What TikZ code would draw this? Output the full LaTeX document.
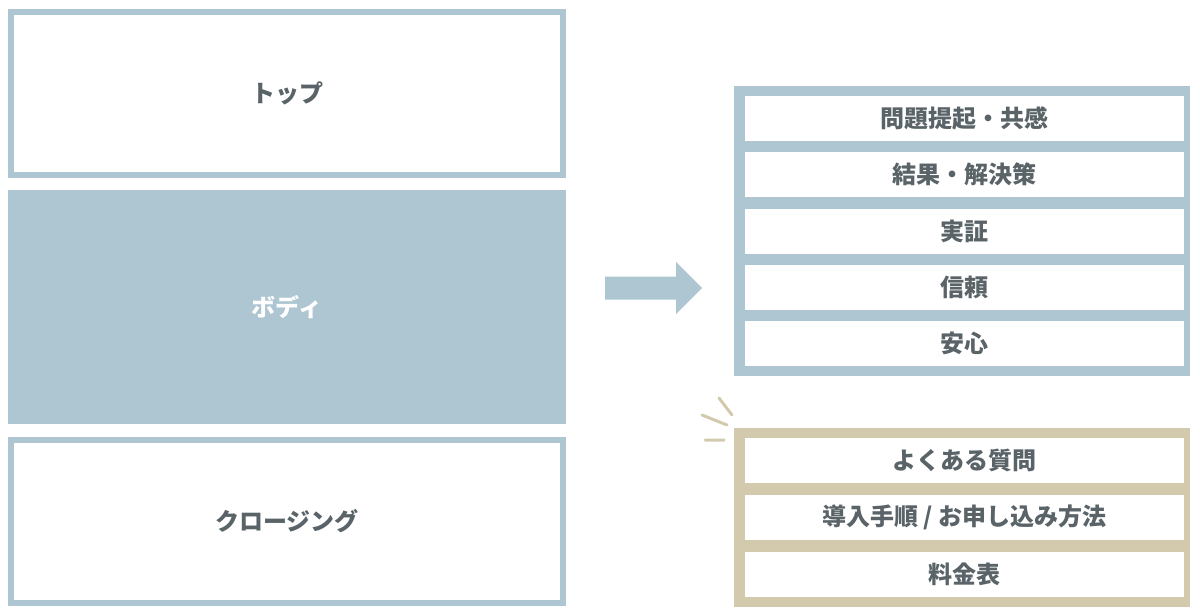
\documentclass[tikz,border=0pt]{standalone}
\usepackage{fontspec}
\newfontfamily\jpfont{Noto Sans CJK JP}
\usepackage{tikz}
\usetikzlibrary{calc}
\definecolor{paleblue}{HTML}{AEC6D2}
\definecolor{sand}{HTML}{D3C9AD}
\definecolor{ink}{HTML}{5A6468}

\begin{document}
\begin{tikzpicture}[x=1pt, y=-1pt,
	label font/.style={font=\jpfont\bfseries\fontsize{24}{28}\selectfont},
	part/.style={rectangle, draw=paleblue, line width=6pt, fill=white,
				minimum width=552pt, minimum height=163pt, inner sep=0pt,
				text=ink, label font},
	panel/.style={rectangle, fill=#1, minimum width=456pt, inner sep=0pt},
	row/.style={rectangle, fill=white, minimum width=439pt, minimum height=45pt,
				inner sep=0pt, text=ink, label font}]

	\useasboundingbox (0,0) rectangle (1200,615);

	% left column
	\node[part] (top) at (287,93.5) {トップ};
	\node[rectangle, fill=paleblue, minimum width=558pt, minimum height=234pt,
		inner sep=0pt, text=white, label font] (body) at (287,307) {ボディ};
	\node[part] (closing) at (287,521.5) {クロージング};

	% arrow
	\coordinate (a) at (605,288);
	\coordinate (tip) at (702,288);
	\fill[paleblue] ($(a)+(0,-11.5)$) -- ($(tip)+(-26,-11.5)$) -- ($(tip)+(-26,-26)$)
		-- (tip) -- ($(tip)+(-26,26)$) -- ($(tip)+(-26,11.5)$) -- ($(a)+(0,11.5)$) -- cycle;

	% body parts
	\node[panel=paleblue, minimum height=290pt] (bodypanel) at (962,231) {};
	\foreach \t [count=\i from 0] in {問題提起・共感,結果・解決策,実証,信頼,安心}
		\node[row] (b\i) at (964.5,118.5+56.25*\i) {\t};

	% closing parts
	\node[panel=sand, minimum height=179pt] (closepanel) at (962,517.5) {};
	\foreach \t [count=\i from 0] in {よくある質問,導入手順 / お申し込み方法,料金表}
		\node[row] (c\i) at (964.5,460.5+57*\i) {\t};

	% sparkle
	\coordinate (s) at (736,428);
	\draw[sand, line width=3pt, line cap=round]
		($(s)+(-17,-30)$) -- ($(s)+(-4,-13)$)
		($(s)+(-34,-13)$) -- ($(s)+(-9,-3)$)
		($(s)+(-31,12)$) -- ($(s)+(-12,12)$);
\end{tikzpicture}
\end{document}
